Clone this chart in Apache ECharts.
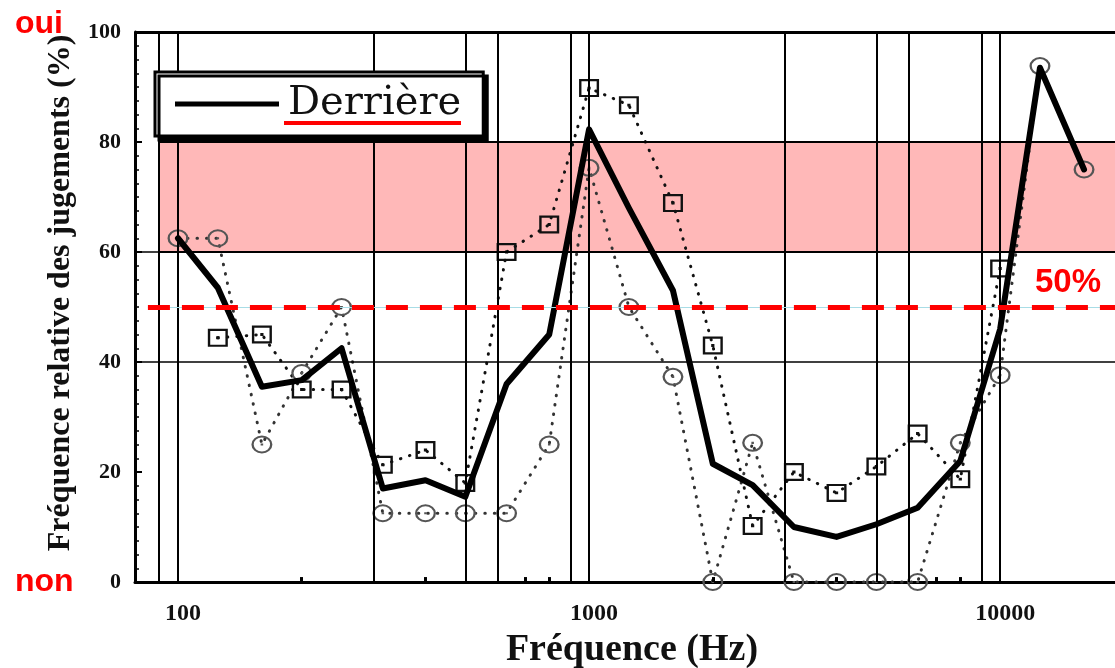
<!DOCTYPE html>
<html><head><meta charset="utf-8">
<script src="https://cdn.jsdelivr.net/npm/echarts@6/dist/echarts.min.js"></script>
<style>html,body{margin:0;padding:0;background:#fff}#c{width:1115px;height:668px}</style>
</head><body><div id="c"></div>
<script>
// ---- data ----
const freqs = [100,125,160,200,250,315,400,500,630,800,1000,1250,1600,2000,2500,3150,4000,5000,6300,8000,10000,12500,16000];
const derriere = [62.5,53.5,35.5,36.7,42.5,17,18.5,15.5,36,45,82.3,68,53,21.5,17.6,10,8.2,10.5,13.5,22,46,93.5,75];
const squares  = [null,44.4,45,35,35,21.3,24,18,60,65,89.8,86.7,68.9,43,10.2,20,16.2,21,27,18.7,57,null,null];
const circles  = [62.5,62.5,25,38,50,12.5,12.5,12.5,12.5,25,75.3,50,37.3,0,25.3,0,0,0,0,25.3,37.6,93.8,75];
const xTickLabels = [100,1000,10000];
const verticalGrid = [90,100,300,500,600,900,1000,3000,5000,6000,9000,10000];
const minorXTicks = [200,400,700,800,2000,4000,7000,8000];
const bandRange = [60,80];
const fullHLines = [40,60];
const threshold = 50;
const X_MIN = 78.6, X_MAX = 19030;

const pair = (a,b)=>freqs.map((f,i)=>[f, b[i]]);

const SQ = 'path://M0,0H100V100H0Z M12,12V88H88V12Z M42,42H58V58H42Z';
const CI = 'path://M50,0A50,50,0,1,1,50,100A50,50,0,1,1,50,0Z M50,11A39,39,0,1,0,50,89A39,39,0,1,0,50,11Z M44,44H56V56H44Z';

const chart = echarts.init(document.getElementById('c'), null, {renderer:'canvas'});
const serif = 'Liberation Serif';

chart.setOption({
  animation:false,
  backgroundColor:'#fff',
  grid:{left:135, right:0, top:32, bottom:86},
  legend:{
    data:['Derrière'], left:155, top:72, orient:'horizontal',
    icon:'rect', itemWidth:104, itemHeight:5, padding:[8,22,8,20],
    itemStyle:{color:'#000'},
    backgroundColor:'#fff', borderColor:'#000', borderWidth:3, borderRadius:0,
    shadowColor:'#000', shadowBlur:0, shadowOffsetX:4, shadowOffsetY:4,
    textStyle:{fontFamily:'DejaVu Serif', fontSize:40, color:'#111', lineHeight:48, padding:[0,0,0,4]},
    selectedMode:false, z:20
  },
  xAxis:{
    type:'log', logBase:10, min:X_MIN, max:X_MAX,
    axisLine:{show:true, lineStyle:{color:'#000', width:3}},
    axisTick:{show:false}, splitLine:{show:false}, minorTick:{show:false},
    axisLabel:{
      showMinLabel:false, showMaxLabel:false, margin:20, padding:[0,0,0,10],
      fontFamily:serif, fontWeight:'bold', fontSize:24, color:'#111',
      formatter:v=>{const r=Math.round(v); return xTickLabels.includes(r)?String(r):'';}
    }
  },
  yAxis:{
    type:'value', min:0, max:100, interval:20,
    axisLine:{show:true, lineStyle:{color:'#000', width:3}},
    axisTick:{show:true, inside:true, length:7, lineStyle:{color:'#000', width:2}},
    minorTick:{show:true, splitNumber:8, length:4, lineStyle:{color:'#000', width:1.5}},
    splitLine:{show:false},
    axisLabel:{margin:14, padding:[12,0,0,0], fontFamily:serif, fontWeight:'bold', fontSize:22, color:'#111'}
  },
  series:[
    { // background grid lines
      name:'grille', type:'line', data:[], z:1, silent:true,
      markLine:{
        symbol:'none', silent:true, label:{show:false}, animation:false,
        lineStyle:{color:'#000', width:2, type:'solid'},
        data: verticalGrid.map(f=>({xAxis:f}))
          .concat(minorXTicks.map(f=>[{coord:[f,0]},{coord:[f,0.9], lineStyle:{width:3}}]))
      }
    },
    {
      name:'cercles', type:'line', data:pair(freqs,circles), z:2, clip:false,
      symbol:CI, symbolSize:[21,18], showAllSymbol:true,
      itemStyle:{color:'#555'},
      lineStyle:{color:'#333', width:3, type:[0.5,9], cap:'round'}
    },
    {
      name:'carrés', type:'line', data:pair(freqs,squares), z:2, clip:false,
      symbol:SQ, symbolSize:[20,18], showAllSymbol:true,
      itemStyle:{color:'#111'},
      lineStyle:{color:'#111', width:3, type:[0.5,9], cap:'round'}
    },
    {
      name:'Derrière', type:'line', data:pair(freqs,derriere), z:3, clip:false,
      symbol:'none', itemStyle:{color:'#000'},
      lineStyle:{color:'#000', width:6, join:'round', cap:'round'}
    },
    { // pink band (on top, semi-transparent)
      name:'zone', type:'line', data:[], z:10, silent:true,
      markArea:{
        silent:true, label:{show:false},
        itemStyle:{color:'rgba(255,0,0,0.28)'},
        data:[[{coord:[verticalGrid[0], bandRange[0]]},{coord:[X_MAX, bandRange[1]]}]]
      }
    },
    { // overlay lines
      name:'lignes', type:'line', data:[], z:11, silent:true,
      markLine:{
        symbol:'none', silent:true, label:{show:false}, animation:false,
        data: fullHLines.map(v=>({yAxis:v, lineStyle:{color:'#000', width:1.6, type:'solid'}}))
          .concat([
            [{coord:[verticalGrid[0], bandRange[1]], lineStyle:{color:'#000', width:2, type:'solid'}},{coord:[X_MAX, bandRange[1]]}],
            [{coord:[verticalGrid[0], bandRange[0]], lineStyle:{color:'#000', width:2, type:'solid'}},{coord:[X_MAX, bandRange[0]]}],
            {yAxis:100, lineStyle:{color:'#000', width:3, type:'solid'}},
            [{coord:[84.5, threshold], lineStyle:{color:'#a8dde6', width:1, type:'solid'}},{coord:[X_MAX, threshold]}],
            [{coord:[84.5, threshold], lineStyle:{color:'#ff0000', width:5, type:[22,12]}},{coord:[X_MAX, threshold]}]
          ])
      }
    }
  ],
  graphic:[
    {type:'text', x:15, y:24, z:30, style:{text:'oui', fill:'#ff0000', font:'bold 32px "Liberation Sans"', align:'left', verticalAlign:'middle'}},
    {type:'text', x:15, y:582, z:30, style:{text:'non', fill:'#ff0000', font:'bold 32px "Liberation Sans"', align:'left', verticalAlign:'middle'}},
    {type:'text', x:1101, y:283, z:30, style:{text:'50%', fill:'#ff0000', font:'bold 33px "Liberation Sans"', align:'right', verticalAlign:'middle'}},
    {type:'rect', z:30, shape:{x:284, y:121, width:177, height:4}, style:{fill:'#ff0000'}},
    {type:'text', x:632, y:650, z:30, style:{text:'Fréquence (Hz)', fill:'#111', font:'bold 38px "Liberation Serif"', align:'center', verticalAlign:'middle'}},
    {type:'text', x:61, y:293, z:30, rotation:Math.PI/2, style:{text:'Fréquence relative des jugements (%)', fill:'#111', font:'bold 32px "Liberation Serif"', align:'center', verticalAlign:'middle'}}
  ]
});
</script>
</body></html>
